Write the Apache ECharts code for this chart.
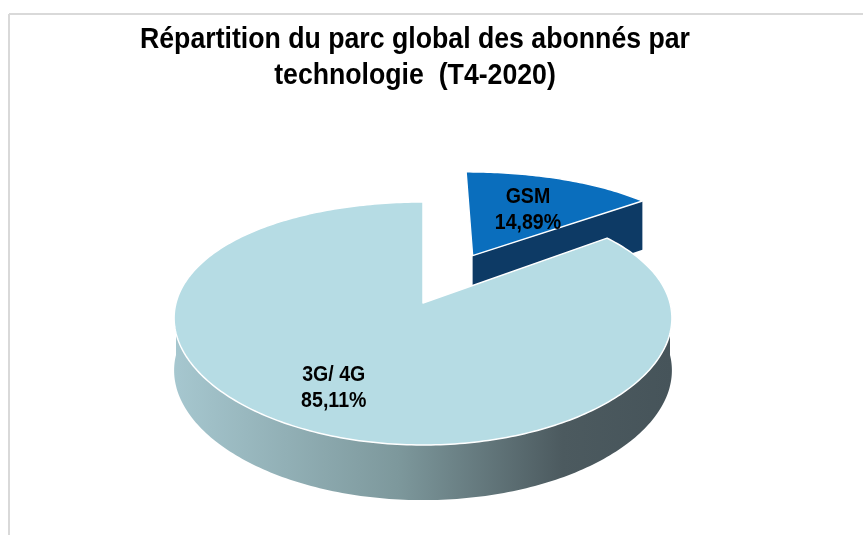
<!DOCTYPE html>
<html>
<head>
<meta charset="utf-8">
<title>Répartition du parc global des abonnés par technologie</title>
<script src="https://cdn.jsdelivr.net/npm/echarts@6/dist/echarts.min.js"></script>
<style>
  html, body { margin: 0; padding: 0; background: #fff; }
  #chart { width: 863px; height: 535px; }
</style>
</head>
<body>
<div id="chart"></div>
<script>
// data
const categories = ['GSM', '3G/ 4G'];
const shares = [14.89, 85.11];

// look of each slice
const topColors = ['#0a6ebd', '#b6dce4'];
const explode = [0.47, 0];
const labelR = [0.6, 0.74];
const labelDy = [4, -4];

// Arial Narrow look-alike: Liberation Sans squeezed horizontally
const FONT = '"Liberation Sans", Arial, sans-serif';

// fake 3D projection of the pie (centre, radii, perspective, thickness)
const CX = 423, CY = 303, RX = 247, RY = 121.5, BULGE = 20.5, PERSP = 0.125, DEPTH = 52;
const total = shares.reduce((a, b) => a + b, 0);
const rad = d => d * Math.PI / 180;

function proj(u, v, down) {
  const x = CX + RX * u * (1 + PERSP * v);
  let y = CY + RY * v + BULGE * v * v;
  if (down) y += DEPTH * (1 + 0.06 * v);
  return [x, y];
}

function rim(ou, ov, a0, a1, down) {
  const pts = [];
  const n = Math.max(2, Math.ceil(Math.abs(a1 - a0)));
  for (let k = 0; k <= n; k++) {
    const a = rad(a0 + (a1 - a0) * k / n);
    pts.push(proj(ou + Math.sin(a), ov - Math.cos(a), down));
  }
  return pts;
}

const sideGradient = new echarts.graphic.LinearGradient(0, 0, 1, 0, [
  { offset: 0, color: '#a6c7cf' },
  { offset: 0.45, color: '#7d989c' },
  { offset: 0.78, color: '#4c5a5f' },
  { offset: 1, color: '#46545a' }
]);
const wallColors = ['#0d3a65', sideGradient];

function fmt(v) {
  return v.toFixed(2).replace('.', ',') + '%';
}

function renderSlice(params, api) {
  const i = params.dataIndex;
  let before = 0;
  for (let k = 0; k < i; k++) before += shares[k];
  const start = before / total * 360;
  const end = start + api.value(0) / total * 360;
  const mid = (start + end) / 2;
  const ou = explode[i] * Math.sin(rad(mid));
  const ov = -explode[i] * Math.cos(rad(mid));
  const children = [];

  // radial walls (cut faces)
  [[start, start - 90], [end, end + 90]].forEach(([a, n]) => {
    if (Math.cos(rad(n)) < -0.01) {
      const p = proj(ou + Math.sin(rad(a)), ov - Math.cos(rad(a)), false);
      const pb = proj(ou + Math.sin(rad(a)), ov - Math.cos(rad(a)), true);
      const c = proj(ou, ov, false);
      const cb = proj(ou, ov, true);
      children.push({
        type: 'polygon',
        shape: { points: [c, p, pb, cb] },
        style: { fill: wallColors[i] }
      });
    }
  });

  // outer wall, only the front half can be seen
  const w0 = Math.max(start, 90), w1 = Math.min(end, 270);
  if (w1 > w0) {
    const pts = rim(ou, ov, w0, w1, false).concat(rim(ou, ov, w1, w0, true));
    children.push({
      type: 'polygon',
      shape: { points: pts },
      style: { fill: wallColors[i] }
    });
  }

  // top face
  const top = [proj(ou, ov, false)].concat(rim(ou, ov, start, end, false));
  children.push({
    type: 'polygon',
    shape: { points: top },
    style: { fill: topColors[i], stroke: '#ffffff', lineWidth: 1.5, lineJoin: 'round' }
  });

  // label
  const r = labelR[i];
  const lp = proj(ou + r * Math.sin(rad(mid)), ov - r * Math.cos(rad(mid)), false);
  children.push({
    type: 'text',
    z2: 10,
    x: lp[0],
    y: lp[1] + labelDy[i],
    scaleX: 0.89,
    style: {
      x: 0,
      y: 0,
      text: categories[i] + '\n' + fmt(api.value(0)),
      fill: '#000',
      fontFamily: FONT,
      fontWeight: 'bold',
      fontSize: 22,
      lineHeight: 26,
      align: 'center',
      verticalAlign: 'middle'
    }
  });

  return { type: 'group', children };
}

const chart = echarts.init(document.getElementById('chart'));
chart.setOption({
  animation: false,
  backgroundColor: '#ffffff',
  graphic: [
    { type: 'line', shape: { x1: 9, y1: 14, x2: 863, y2: 14 }, style: { stroke: '#d9d9d9', lineWidth: 2 } },
    { type: 'line', shape: { x1: 9, y1: 14, x2: 9, y2: 535 }, style: { stroke: '#d9d9d9', lineWidth: 2 } },
    {
      type: 'text',
      x: 415,
      y: 22,
      scaleX: 0.92,
      style: {
        text: 'Répartition du parc global des abonnés par\ntechnologie  (T4-2020)',
        x: 0,
        y: 0,
        align: 'center',
        verticalAlign: 'top',
        fontFamily: FONT,
        fontWeight: 'bold',
        fontSize: 29,
        lineHeight: 36,
        fill: '#000'
      }
    }
  ],
  series: [{
    type: 'custom',
    coordinateSystem: 'none',
    renderItem: renderSlice,
    data: shares.map((v, i) => ({ name: categories[i], value: v }))
  }]
});
</script>
</body>
</html>
